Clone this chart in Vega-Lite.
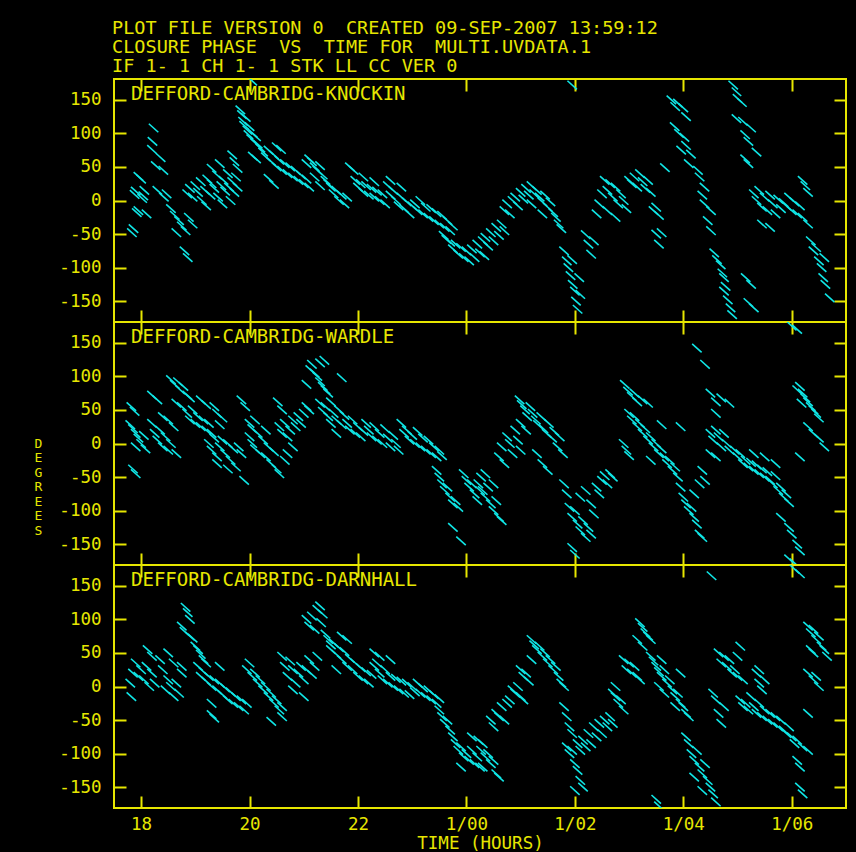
{
"$schema":"https://vega.github.io/schema/vega-lite/v6.json",
"background":"black",
"padding":{"left":33,"top":18,"right":11,"bottom":2},
"spacing":0,
"bounds":"flush",
"title":{"text":["PLOT FILE VERSION 0\u00a0\u00a0CREATED 09-SEP-2007 13:59:12","CLOSURE PHASE\u00a0\u00a0VS\u00a0\u00a0TIME FOR\u00a0\u00a0MULTI.UVDATA.1","IF 1- 1 CH 1- 1 STK LL CC VER 0"],"anchor":"start","frame":"bounds","dx":79,"offset":2,"fontSize":18.5,"lineHeight":19,"color":"#e6e600","font":"DejaVu Sans Mono","fontWeight":"normal"},
"config":{"view":{"stroke":"#e6e600","strokeWidth":2},"axis":{"grid":false,"domain":false,"tickColor":"#e6e600","tickWidth":2,"labelColor":"#e6e600","titleColor":"#e6e600","labelFont":"DejaVu Sans Mono","titleFont":"DejaVu Sans Mono","titleFontWeight":"normal"}},
"datasets":{
"K":[{"t":17.83,"p":-48},{"t":17.86,"p":-42},{"t":17.88,"p":9},{"t":17.9,"p":14},{"t":17.92,"p":-18},{"t":17.95,"p":-15},{"t":17.95,"p":36},{"t":18.0,"p":32},{"t":18.02,"p":3},{"t":18.04,"p":7},{"t":18.06,"p":15},{"t":18.1,"p":-20},
{"t":18.23,"p":108},{"t":18.21,"p":88},{"t":18.2,"p":76},{"t":18.36,"p":64},{"t":18.27,"p":52},{"t":18.41,"p":45},{"t":18.47,"p":10},{"t":18.42,"p":5},{"t":18.3,"p":15},
{"t":18.55,"p":-12},{"t":18.62,"p":-22},{"t":18.7,"p":-30},{"t":18.75,"p":-38},{"t":18.82,"p":-45},{"t":18.65,"p":-48},{"t":18.88,"p":-25},{"t":18.95,"p":-35},{"t":18.8,"p":-75},{"t":18.86,"p":-85},
{"t":18.85,"p":10},{"t":18.9,"p":18},{"t":18.95,"p":5},{"t":19.0,"p":22},{"t":19.05,"p":12},{"t":19.1,"p":28},{"t":19.12,"p":0},{"t":19.18,"p":15},{"t":19.22,"p":32},{"t":19.28,"p":8},{"t":19.3,"p":25},{"t":19.35,"p":18},{"t":19.4,"p":38},{"t":19.42,"p":5},{"t":19.48,"p":22},{"t":19.52,"p":30},{"t":19.55,"p":14},{"t":19.6,"p":40},{"t":19.62,"p":20},{"t":19.68,"p":28},{"t":19.72,"p":12},{"t":19.75,"p":35},{"t":19.78,"p":20},{"t":19.3,"p":48},{"t":19.45,"p":55},{"t":19.2,"p":-8},{"t":19.5,"p":-5},{"t":19.65,"p":0},{"t":19.68,"p":68},{"t":19.72,"p":58},{"t":19.78,"p":48},
{"t":19.83,"p":135},{"t":19.86,"p":128},{"t":19.88,"p":118},{"t":19.9,"p":112},{"t":19.93,"p":124},{"t":19.96,"p":105},{"t":19.98,"p":98},{"t":20.0,"p":110},{"t":20.03,"p":92},{"t":20.06,"p":100},{"t":20.1,"p":86},{"t":20.12,"p":95},{"t":20.15,"p":84},{"t":20.06,"p":66},{"t":20.12,"p":62},{"t":20.35,"p":33},{"t":20.45,"p":24},{"t":20.05,"p":178},
{"t":20.2,"p":78},{"t":20.25,"p":72},{"t":20.3,"p":65},{"t":20.35,"p":75},{"t":20.4,"p":58},{"t":20.45,"p":68},{"t":20.5,"p":50},{"t":20.55,"p":60},{"t":20.6,"p":45},{"t":20.65,"p":55},{"t":20.7,"p":40},{"t":20.75,"p":50},{"t":20.8,"p":35},{"t":20.85,"p":45},{"t":20.9,"p":30},{"t":20.95,"p":38},{"t":21.0,"p":25},{"t":21.05,"p":32},{"t":21.1,"p":20},{"t":20.5,"p":80},{"t":20.58,"p":76},
{"t":21.05,"p":55},{"t":21.1,"p":62},{"t":21.15,"p":58},{"t":21.2,"p":50},{"t":21.25,"p":45},{"t":21.3,"p":52},{"t":21.35,"p":38},{"t":21.4,"p":30},{"t":21.45,"p":25},{"t":21.2,"p":35},{"t":21.3,"p":22},
{"t":21.5,"p":20},{"t":21.55,"p":10},{"t":21.6,"p":15},{"t":21.65,"p":0},{"t":21.7,"p":8},{"t":21.75,"p":-5},{"t":21.8,"p":5},{"t":21.85,"p":50},{"t":21.92,"p":45},
{"t":21.95,"p":30},{"t":22.0,"p":20},{"t":22.05,"p":25},{"t":22.1,"p":12},{"t":22.15,"p":22},{"t":22.2,"p":8},{"t":22.25,"p":18},{"t":22.3,"p":5},{"t":22.35,"p":14},{"t":22.4,"p":0},{"t":22.45,"p":10},{"t":22.5,"p":-5},{"t":22.1,"p":35},{"t":22.3,"p":28},
{"t":22.55,"p":22},{"t":22.6,"p":8},{"t":22.65,"p":15},{"t":22.7,"p":0},{"t":22.75,"p":-8},{"t":22.8,"p":5},{"t":22.85,"p":-12},{"t":22.9,"p":-2},{"t":22.95,"p":-20},{"t":23.0,"p":-8},{"t":22.6,"p":30},{"t":22.8,"p":20},
{"t":23.05,"p":-5},{"t":23.1,"p":-15},{"t":23.15,"p":0},{"t":23.2,"p":-20},{"t":23.25,"p":-10},{"t":23.3,"p":-25},{"t":23.35,"p":-12},{"t":23.4,"p":-30},{"t":23.45,"p":-18},{"t":23.5,"p":-35},{"t":23.55,"p":-22},{"t":23.6,"p":-40},{"t":23.65,"p":-30},{"t":23.7,"p":-45},{"t":23.75,"p":-38},
{"t":23.58,"p":-52},{"t":23.63,"p":-58},{"t":23.7,"p":-62},{"t":23.75,"p":-72},{"t":23.8,"p":-65},{"t":23.85,"p":-80},{"t":23.9,"p":-70},{"t":23.95,"p":-85},{"t":24.0,"p":-75},{"t":24.05,"p":-90},{"t":24.1,"p":-72},{"t":24.15,"p":-85},{"t":24.2,"p":-65},{"t":24.25,"p":-78},{"t":24.3,"p":-60},
{"t":24.33,"p":-82},{"t":24.35,"p":-55},{"t":24.4,"p":-68},{"t":24.45,"p":-48},{"t":24.5,"p":-60},{"t":24.55,"p":-40},{"t":24.6,"p":-52},{"t":24.65,"p":-35},{"t":24.7,"p":-45},
{"t":24.7,"p":-15},{"t":24.75,"p":-5},{"t":24.8,"p":-20},{"t":24.85,"p":0},{"t":24.9,"p":5},{"t":24.95,"p":-8},{"t":25.0,"p":12},{"t":25.05,"p":2},{"t":25.1,"p":18},{"t":25.15,"p":8},{"t":25.2,"p":22},{"t":25.25,"p":10},{"t":25.3,"p":15},{"t":25.35,"p":5},{"t":25.4,"p":-2},{"t":25.45,"p":8},{"t":25.5,"p":-10},{"t":25.55,"p":-2},{"t":25.6,"p":-18},{"t":25.65,"p":-25},{"t":25.7,"p":-35},{"t":25.75,"p":-42},{"t":25.2,"p":-5},{"t":25.4,"p":-20},
{"t":25.8,"p":-75},{"t":25.85,"p":-90},{"t":25.88,"p":-100},{"t":25.92,"p":-112},{"t":25.96,"p":-125},{"t":26.0,"p":-135},{"t":26.02,"p":-150},{"t":26.05,"p":-162},{"t":25.95,"p":-88},{"t":26.1,"p":-140},{"t":26.2,"p":-51},{"t":26.25,"p":-65},{"t":26.3,"p":-80},{"t":26.35,"p":-60},{"t":26.08,"p":-115},{"t":25.95,"p":172},
{"t":26.4,"p":-20},{"t":26.45,"p":-5},{"t":26.5,"p":10},{"t":26.55,"p":30},{"t":26.6,"p":15},{"t":26.65,"p":25},{"t":26.7,"p":5},{"t":26.75,"p":20},{"t":26.8,"p":-5},{"t":26.85,"p":10},{"t":26.9,"p":0},{"t":26.95,"p":-12},{"t":26.6,"p":-15},{"t":26.75,"p":-25},
{"t":27.0,"p":30},{"t":27.05,"p":25},{"t":27.1,"p":35},{"t":27.15,"p":20},{"t":27.2,"p":40},{"t":27.25,"p":28},{"t":27.3,"p":18},{"t":27.35,"p":30},{"t":27.4,"p":12},
{"t":27.45,"p":-15},{"t":27.5,"p":-10},{"t":27.55,"p":-22},{"t":27.5,"p":-50},{"t":27.55,"p":-65},{"t":27.6,"p":-48},{"t":27.66,"p":49},
{"t":27.78,"p":150},{"t":27.85,"p":140},{"t":27.9,"p":145},{"t":28.0,"p":138},{"t":28.05,"p":125},{"t":27.84,"p":110},{"t":27.92,"p":100},{"t":28.02,"p":94},{"t":27.96,"p":75},{"t":28.05,"p":82},{"t":28.14,"p":69},{"t":28.1,"p":55},{"t":28.27,"p":45},{"t":28.3,"p":35},{"t":28.39,"p":20},{"t":28.35,"p":8},{"t":28.39,"p":-5},{"t":28.51,"p":-15},{"t":28.45,"p":-30},{"t":28.51,"p":-45},
{"t":28.57,"p":-78},{"t":28.62,"p":-88},{"t":28.69,"p":-96},{"t":28.72,"p":-108},{"t":28.75,"p":-115},{"t":28.78,"p":-128},{"t":28.75,"p":-135},{"t":28.82,"p":-148},{"t":28.87,"p":-160},{"t":28.9,"p":-170},
{"t":28.92,"p":172},{"t":28.98,"p":162},{"t":29.0,"p":152},{"t":29.08,"p":146},{"t":28.98,"p":122},{"t":29.1,"p":118},{"t":29.25,"p":108},{"t":29.14,"p":98},{"t":29.2,"p":88},{"t":29.14,"p":62},{"t":29.2,"p":55},{"t":29.35,"p":72},
{"t":29.15,"p":-115},{"t":29.25,"p":-125},{"t":29.2,"p":-152},{"t":29.3,"p":-160},
{"t":29.3,"p":10},{"t":29.35,"p":0},{"t":29.4,"p":15},{"t":29.45,"p":-10},{"t":29.5,"p":5},{"t":29.55,"p":-15},{"t":29.6,"p":8},{"t":29.65,"p":-5},{"t":29.7,"p":-20},{"t":29.75,"p":2},{"t":29.8,"p":-12},{"t":29.85,"p":-3},{"t":29.9,"p":-8},{"t":29.95,"p":5},{"t":30.0,"p":-15},{"t":30.05,"p":-2},{"t":30.1,"p":-20},{"t":30.15,"p":-8},{"t":30.2,"p":-25},{"t":30.3,"p":-35},{"t":29.45,"p":-35},{"t":29.6,"p":-40},{"t":30.2,"p":30},{"t":30.25,"p":22},{"t":30.3,"p":12},
{"t":30.35,"p":-60},{"t":30.4,"p":-75},{"t":30.45,"p":-70},{"t":30.5,"p":-90},{"t":30.55,"p":-100},{"t":30.6,"p":-85},{"t":30.58,"p":-115},{"t":30.62,"p":-125},{"t":30.7,"p":-145}],
"W":[{"t":17.8,"p":28},{"t":17.85,"p":22},{"t":17.9,"p":15},{"t":17.95,"p":8},{"t":18.0,"p":0},{"t":18.05,"p":12},{"t":17.9,"p":-5},{"t":18.08,"p":-8},{"t":17.82,"p":55},{"t":17.88,"p":48},{"t":17.85,"p":-38},{"t":17.9,"p":-45},
{"t":18.2,"p":30},{"t":18.25,"p":15},{"t":18.3,"p":5},{"t":18.35,"p":20},{"t":18.4,"p":-5},{"t":18.45,"p":10},{"t":18.5,"p":-10},{"t":18.55,"p":0},{"t":18.6,"p":25},{"t":18.65,"p":-15},{"t":18.2,"p":72},{"t":18.3,"p":65},{"t":18.4,"p":40},{"t":18.5,"p":35},
{"t":18.55,"p":95},{"t":18.62,"p":88},{"t":18.68,"p":92},{"t":18.72,"p":80},{"t":18.78,"p":85},{"t":18.85,"p":72},{"t":18.9,"p":68},{"t":18.65,"p":60},{"t":18.75,"p":55},
{"t":18.85,"p":45},{"t":18.9,"p":35},{"t":18.95,"p":50},{"t":19.0,"p":30},{"t":19.05,"p":40},{"t":19.1,"p":25},{"t":19.15,"p":35},{"t":19.2,"p":20},{"t":19.25,"p":30},{"t":19.3,"p":15},{"t":19.35,"p":55},{"t":19.4,"p":45},{"t":19.45,"p":28},{"t":19.5,"p":38},{"t":19.1,"p":65},{"t":19.2,"p":58},
{"t":19.25,"p":0},{"t":19.3,"p":-10},{"t":19.35,"p":8},{"t":19.4,"p":-20},{"t":19.45,"p":-5},{"t":19.5,"p":5},{"t":19.55,"p":-15},{"t":19.6,"p":0},{"t":19.65,"p":-25},{"t":19.7,"p":-8},{"t":19.75,"p":-35},{"t":19.8,"p":-5},{"t":19.85,"p":-15},{"t":19.9,"p":-55},{"t":19.4,"p":-30},{"t":19.6,"p":-38},
{"t":19.85,"p":65},{"t":19.92,"p":55},{"t":20.0,"p":30},{"t":20.05,"p":22},{"t":20.1,"p":35},
{"t":20.0,"p":10},{"t":20.05,"p":0},{"t":20.1,"p":-8},{"t":20.15,"p":15},{"t":20.2,"p":-15},{"t":20.25,"p":5},{"t":20.3,"p":-20},{"t":20.35,"p":-5},{"t":20.4,"p":-30},{"t":20.45,"p":-12},{"t":20.5,"p":-38},{"t":20.55,"p":-45},{"t":20.3,"p":20},
{"t":20.55,"p":25},{"t":20.6,"p":15},{"t":20.65,"p":30},{"t":20.7,"p":10},{"t":20.75,"p":20},{"t":20.8,"p":35},{"t":20.85,"p":25},{"t":20.9,"p":40},{"t":20.95,"p":30},{"t":21.0,"p":45},{"t":21.05,"p":55},{"t":21.1,"p":50},{"t":20.7,"p":-15},{"t":20.8,"p":-5},{"t":20.6,"p":50},{"t":20.65,"p":-25},{"t":20.52,"p":62},
{"t":21.12,"p":110},{"t":21.15,"p":118},{"t":21.2,"p":105},{"t":21.25,"p":100},{"t":21.3,"p":92},{"t":21.35,"p":85},{"t":21.4,"p":80},{"t":21.45,"p":75},{"t":21.3,"p":120},{"t":21.05,"p":88},{"t":21.38,"p":124},{"t":21.7,"p":98},
{"t":21.3,"p":60},{"t":21.35,"p":48},{"t":21.4,"p":55},{"t":21.45,"p":40},{"t":21.5,"p":62},{"t":21.55,"p":45},{"t":21.6,"p":35},{"t":21.65,"p":50},{"t":21.7,"p":28},{"t":21.75,"p":42},{"t":21.8,"p":30},{"t":21.85,"p":20},{"t":21.9,"p":35},{"t":21.95,"p":15},{"t":22.0,"p":25},{"t":22.05,"p":10},{"t":22.1,"p":18},{"t":21.5,"p":30},{"t":21.6,"p":15},
{"t":22.15,"p":30},{"t":22.2,"p":20},{"t":22.25,"p":10},{"t":22.3,"p":25},{"t":22.35,"p":5},{"t":22.4,"p":15},{"t":22.45,"p":0},{"t":22.5,"p":22},{"t":22.55,"p":8},{"t":22.6,"p":-5},{"t":22.65,"p":12},{"t":22.7,"p":0},{"t":22.75,"p":-10},
{"t":22.8,"p":30},{"t":22.85,"p":15},{"t":22.9,"p":20},{"t":22.95,"p":5},{"t":23.0,"p":12},{"t":23.05,"p":0},{"t":23.1,"p":18},{"t":23.15,"p":-5},{"t":23.2,"p":8},{"t":23.25,"p":-10},{"t":23.3,"p":5},{"t":23.35,"p":-15},{"t":23.4,"p":-5},{"t":23.45,"p":-20},{"t":23.5,"p":-10},{"t":23.55,"p":-18},
{"t":23.45,"p":-40},{"t":23.5,"p":-50},{"t":23.55,"p":-60},{"t":23.6,"p":-70},{"t":23.65,"p":-65},{"t":23.7,"p":-80},{"t":23.75,"p":-90},{"t":23.8,"p":-85},{"t":23.85,"p":-95},{"t":23.75,"p":-125},{"t":23.9,"p":-145},
{"t":23.95,"p":-45},{"t":24.0,"p":-55},{"t":24.05,"p":-65},{"t":24.1,"p":-60},{"t":24.15,"p":-75},{"t":24.2,"p":-85},{"t":24.25,"p":-70},
{"t":24.22,"p":-60},{"t":24.27,"p":-50},{"t":24.3,"p":-70},{"t":24.35,"p":-80},{"t":24.4,"p":-65},{"t":24.45,"p":-90},{"t":24.5,"p":-100},{"t":24.55,"p":-85},{"t":24.6,"p":-110},{"t":24.65,"p":-115},{"t":24.35,"p":-45},{"t":24.5,"p":-60},
{"t":24.6,"p":-20},{"t":24.65,"p":-5},{"t":24.7,"p":-30},{"t":24.75,"p":10},{"t":24.8,"p":0},{"t":24.85,"p":-15},{"t":24.9,"p":20},{"t":24.95,"p":5},{"t":25.0,"p":-10},
{"t":24.98,"p":65},{"t":25.02,"p":58},{"t":25.08,"p":50},{"t":25.12,"p":40},{"t":25.18,"p":55},{"t":25.22,"p":45},{"t":25.28,"p":35},{"t":25.32,"p":28},{"t":25.38,"p":40},{"t":25.42,"p":22},{"t":25.48,"p":15},{"t":25.52,"p":30},{"t":25.58,"p":8},{"t":25.62,"p":18},{"t":25.68,"p":-5},{"t":25.72,"p":10},{"t":25.78,"p":-15},{"t":25.0,"p":30},{"t":25.1,"p":20},{"t":25.3,"p":-15},{"t":25.4,"p":-30},{"t":25.5,"p":-40},
{"t":25.8,"p":-60},{"t":25.85,"p":-75},{"t":25.9,"p":-95},{"t":25.95,"p":-110},{"t":26.0,"p":-100},{"t":26.05,"p":-120},{"t":26.1,"p":-130},{"t":26.15,"p":-115},{"t":26.2,"p":-140},{"t":26.25,"p":-125},{"t":26.3,"p":-135},{"t":26.35,"p":-105},{"t":25.95,"p":-155},{"t":26.0,"p":-165},
{"t":26.1,"p":-80},{"t":26.2,"p":-70},{"t":26.3,"p":-90},{"t":26.4,"p":-65},{"t":26.45,"p":-75},{"t":26.5,"p":-55},{"t":26.55,"p":-48},{"t":26.6,"p":-60},{"t":26.65,"p":-45},{"t":26.7,"p":-50},
{"t":26.9,"p":0},{"t":26.95,"p":-10},{"t":27.0,"p":-18},
{"t":26.92,"p":88},{"t":26.98,"p":78},{"t":27.05,"p":70},{"t":27.1,"p":75},{"t":27.15,"p":62},{"t":27.25,"p":65},{"t":27.35,"p":60},
{"t":27.0,"p":45},{"t":27.05,"p":35},{"t":27.1,"p":40},{"t":27.15,"p":25},{"t":27.2,"p":30},{"t":27.25,"p":15},{"t":27.3,"p":22},{"t":27.35,"p":5},{"t":27.4,"p":10},{"t":27.45,"p":-5},{"t":27.5,"p":0},{"t":27.55,"p":-15},{"t":27.6,"p":-8},{"t":27.65,"p":-20},{"t":27.7,"p":-30},{"t":27.75,"p":-25},{"t":27.8,"p":-40},{"t":27.85,"p":-35},{"t":27.9,"p":-50},{"t":27.4,"p":-25},{"t":27.6,"p":28},{"t":27.95,"p":25},
{"t":27.95,"p":-65},{"t":28.0,"p":-80},{"t":28.05,"p":-90},{"t":28.1,"p":-100},{"t":28.15,"p":-95},{"t":28.2,"p":-110},{"t":28.25,"p":-120},{"t":28.3,"p":-135},{"t":28.35,"p":-140},{"t":28.2,"p":-75},{"t":28.3,"p":-60},{"t":28.35,"p":-40},{"t":28.4,"p":-55},
{"t":28.25,"p":142},{"t":28.4,"p":118},
{"t":28.5,"p":75},{"t":28.6,"p":62},{"t":28.7,"p":68},{"t":28.85,"p":60},{"t":28.6,"p":45},
{"t":28.5,"p":15},{"t":28.55,"p":5},{"t":28.6,"p":20},{"t":28.65,"p":10},{"t":28.7,"p":-5},{"t":28.75,"p":15},{"t":28.8,"p":0},{"t":28.85,"p":-10},{"t":28.5,"p":-15},{"t":28.6,"p":-20},
{"t":28.95,"p":-10},{"t":29.0,"p":-20},{"t":29.05,"p":-15},{"t":29.1,"p":-30},{"t":29.15,"p":-25},{"t":29.2,"p":-35},{"t":29.25,"p":-28},{"t":29.3,"p":-40},{"t":29.35,"p":-32},{"t":29.4,"p":-45},{"t":29.45,"p":-38},{"t":29.5,"p":-50},{"t":29.55,"p":-42},{"t":29.6,"p":-55},{"t":29.65,"p":-60},{"t":29.7,"p":-48},{"t":29.75,"p":-70},{"t":29.8,"p":-65},{"t":29.85,"p":-80},{"t":29.9,"p":-75},{"t":29.95,"p":-88},{"t":29.3,"p":-15},{"t":29.5,"p":-20},{"t":29.7,"p":-30},
{"t":29.8,"p":-110},{"t":29.95,"p":-125},{"t":30.0,"p":-135},{"t":30.1,"p":-150},{"t":30.15,"p":-160},{"t":30.0,"p":175},{"t":30.1,"p":170},
{"t":30.1,"p":80},{"t":30.15,"p":85},{"t":30.2,"p":75},{"t":30.25,"p":68},{"t":30.3,"p":62},{"t":30.35,"p":55},{"t":30.4,"p":50},{"t":30.45,"p":45},{"t":30.5,"p":38},{"t":30.18,"p":60},
{"t":30.3,"p":25},{"t":30.4,"p":15},{"t":30.5,"p":8},{"t":30.6,"p":-5},{"t":30.15,"p":-20},{"t":29.95,"p":-172},{"t":30.05,"p":-178}],
"D":[{"t":17.8,"p":5},{"t":17.85,"p":20},{"t":17.9,"p":35},{"t":17.95,"p":15},{"t":18.0,"p":25},{"t":18.05,"p":10},{"t":18.1,"p":30},{"t":18.15,"p":0},{"t":18.2,"p":20},{"t":18.25,"p":5},{"t":17.82,"p":-15},{"t":18.12,"p":55},{"t":18.2,"p":45},
{"t":18.35,"p":40},{"t":18.4,"p":25},{"t":18.45,"p":-5},{"t":18.5,"p":10},{"t":18.55,"p":0},{"t":18.6,"p":-15},{"t":18.65,"p":5},{"t":18.7,"p":-10},{"t":18.5,"p":50},{"t":18.6,"p":35},{"t":18.75,"p":30},{"t":18.75,"p":20},
{"t":18.82,"p":118},{"t":18.86,"p":110},{"t":18.9,"p":100},{"t":18.75,"p":90},{"t":18.8,"p":82},{"t":18.9,"p":75},
{"t":18.95,"p":72},{"t":19.0,"p":60},{"t":19.05,"p":55},{"t":19.1,"p":48},{"t":19.15,"p":40},{"t":19.2,"p":35},
{"t":19.05,"p":30},{"t":19.1,"p":15},{"t":19.15,"p":22},{"t":19.2,"p":8},{"t":19.25,"p":15},{"t":19.3,"p":0},{"t":19.35,"p":10},{"t":19.4,"p":-5},{"t":19.45,"p":5},{"t":19.5,"p":-12},{"t":19.55,"p":-2},{"t":19.6,"p":-20},{"t":19.65,"p":-8},{"t":19.7,"p":-25},{"t":19.75,"p":-15},{"t":19.8,"p":-30},{"t":19.85,"p":-20},{"t":19.9,"p":-35},{"t":19.95,"p":-25},{"t":19.45,"p":30},{"t":19.3,"p":-25},{"t":19.35,"p":-47},{"t":19.3,"p":-42},
{"t":19.95,"p":25},{"t":20.0,"p":35},{"t":20.05,"p":15},{"t":20.1,"p":20},{"t":20.15,"p":5},{"t":20.2,"p":10},{"t":20.25,"p":-5},{"t":20.3,"p":0},{"t":20.35,"p":-15},{"t":20.4,"p":-10},{"t":20.45,"p":-25},{"t":20.5,"p":-20},{"t":20.55,"p":-35},{"t":20.6,"p":-30},{"t":20.4,"p":-52},{"t":20.6,"p":-45},
{"t":20.6,"p":45},{"t":20.65,"p":30},{"t":20.7,"p":15},{"t":20.75,"p":38},{"t":20.8,"p":25},{"t":20.85,"p":5},{"t":20.9,"p":20},{"t":20.95,"p":30},{"t":21.0,"p":10},{"t":21.05,"p":25},{"t":21.1,"p":40},{"t":21.15,"p":18},{"t":21.2,"p":30},{"t":21.25,"p":45},{"t":20.8,"p":-5},{"t":21.0,"p":-15},
{"t":21.05,"p":100},{"t":21.1,"p":90},{"t":21.15,"p":105},{"t":21.2,"p":85},{"t":21.25,"p":115},{"t":21.3,"p":120},{"t":21.32,"p":95},{"t":21.35,"p":108},{"t":21.4,"p":78},{"t":21.45,"p":70},{"t":21.5,"p":62},
{"t":21.5,"p":55},{"t":21.55,"p":65},{"t":21.6,"p":48},{"t":21.65,"p":58},{"t":21.7,"p":40},{"t":21.75,"p":52},{"t":21.8,"p":30},{"t":21.85,"p":42},{"t":21.9,"p":25},{"t":21.95,"p":35},{"t":22.0,"p":15},{"t":22.05,"p":28},{"t":22.1,"p":10},{"t":22.15,"p":22},{"t":22.2,"p":5},{"t":22.25,"p":18},{"t":22.3,"p":30},{"t":21.7,"p":75},{"t":21.8,"p":70},{"t":21.6,"p":25},{"t":22.3,"p":50},{"t":22.4,"p":45},
{"t":22.35,"p":35},{"t":22.4,"p":20},{"t":22.45,"p":10},{"t":22.5,"p":25},{"t":22.55,"p":5},{"t":22.6,"p":15},{"t":22.65,"p":0},{"t":22.7,"p":12},{"t":22.75,"p":-5},{"t":22.8,"p":8},{"t":22.85,"p":-10},{"t":22.9,"p":5},{"t":22.95,"p":-12},{"t":22.6,"p":40},
{"t":23.0,"p":0},{"t":23.05,"p":-8},{"t":23.1,"p":5},{"t":23.15,"p":-10},{"t":23.2,"p":-2},{"t":23.25,"p":-15},{"t":23.3,"p":-5},{"t":23.35,"p":-20},{"t":23.4,"p":-12},{"t":23.45,"p":-25},{"t":23.5,"p":-18},
{"t":23.5,"p":-35},{"t":23.55,"p":-45},{"t":23.6,"p":-55},{"t":23.65,"p":-50},{"t":23.7,"p":-65},{"t":23.75,"p":-75},
{"t":23.8,"p":-85},{"t":23.85,"p":-95},{"t":23.9,"p":-90},{"t":23.95,"p":-105},{"t":24.0,"p":-100},{"t":24.05,"p":-110},{"t":24.1,"p":-95},{"t":24.15,"p":-115},{"t":24.2,"p":-105},{"t":24.25,"p":-120},{"t":23.9,"p":-120},{"t":24.1,"p":-75},
{"t":24.22,"p":-80},{"t":24.27,"p":-95},{"t":24.3,"p":-85},{"t":24.35,"p":-105},{"t":24.4,"p":-100},{"t":24.45,"p":-115},{"t":24.5,"p":-110},{"t":24.55,"p":-130},{"t":24.6,"p":-135},{"t":24.3,"p":-120},
{"t":24.45,"p":-50},{"t":24.5,"p":-60},{"t":24.55,"p":-40},{"t":24.6,"p":-45},{"t":24.65,"p":-30},{"t":24.7,"p":-50},{"t":24.75,"p":-25},{"t":24.8,"p":-20},{"t":24.85,"p":-5},{"t":24.9,"p":-10},{"t":24.95,"p":0},{"t":25.0,"p":-15},{"t":25.05,"p":-20},
{"t":25.0,"p":25},{"t":25.05,"p":15},{"t":25.1,"p":20},{"t":25.15,"p":8},
{"t":25.2,"p":70},{"t":25.25,"p":62},{"t":25.3,"p":55},{"t":25.35,"p":60},{"t":25.4,"p":45},{"t":25.45,"p":50},{"t":25.5,"p":35},{"t":25.55,"p":40},{"t":25.6,"p":25},{"t":25.65,"p":30},{"t":25.7,"p":15},{"t":25.75,"p":5},{"t":25.8,"p":0},{"t":25.2,"p":40},
{"t":25.8,"p":-30},{"t":25.85,"p":-45},{"t":25.9,"p":-60},{"t":25.95,"p":-70},
{"t":25.85,"p":-90},{"t":25.9,"p":-100},{"t":25.95,"p":-95},{"t":26.0,"p":-115},{"t":26.05,"p":-125},{"t":26.1,"p":-140},{"t":26.15,"p":-150},{"t":26.0,"p":-155},
{"t":26.05,"p":-85},{"t":26.1,"p":-95},{"t":26.15,"p":-80},{"t":26.2,"p":-90},{"t":26.25,"p":-70},{"t":26.3,"p":-85},{"t":26.35,"p":-60},{"t":26.4,"p":-75},{"t":26.45,"p":-55},{"t":26.5,"p":-70},{"t":26.55,"p":-50},{"t":26.6,"p":-60},{"t":26.65,"p":-45},{"t":26.7,"p":-55},
{"t":26.7,"p":-10},{"t":26.75,"p":-15},{"t":26.8,"p":-25},{"t":26.85,"p":-20},{"t":26.9,"p":-35},{"t":26.75,"p":0},
{"t":26.9,"p":40},{"t":26.95,"p":25},{"t":27.0,"p":35},{"t":27.05,"p":20},{"t":27.1,"p":30},{"t":27.15,"p":15},{"t":27.2,"p":10},
{"t":27.2,"p":95},{"t":27.25,"p":88},{"t":27.3,"p":80},{"t":27.35,"p":75},{"t":27.4,"p":70},{"t":27.15,"p":70},{"t":27.25,"p":60},
{"t":27.4,"p":45},{"t":27.45,"p":38},{"t":27.5,"p":30},{"t":27.55,"p":22},{"t":27.6,"p":15},{"t":27.65,"p":25},{"t":27.7,"p":5},{"t":27.75,"p":10},{"t":27.8,"p":-5},{"t":27.85,"p":-15},{"t":27.9,"p":-10},{"t":27.95,"p":-25},{"t":28.0,"p":-30},{"t":28.05,"p":-40},{"t":28.1,"p":-45},{"t":27.85,"p":-30},{"t":27.6,"p":40},{"t":27.55,"p":0},{"t":27.65,"p":-10},{"t":27.95,"p":20},
{"t":28.05,"p":-75},{"t":28.1,"p":-85},{"t":28.15,"p":-100},{"t":28.2,"p":-110},{"t":28.25,"p":-95},{"t":28.3,"p":-120},{"t":28.35,"p":-130},{"t":28.4,"p":-115},{"t":28.45,"p":-140},{"t":28.5,"p":-150},{"t":28.55,"p":-160},{"t":28.6,"p":-172},{"t":28.2,"p":-135},{"t":28.35,"p":-155},
{"t":27.5,"p":-168},{"t":27.55,"p":-178},{"t":28.52,"p":165},
{"t":28.55,"p":-10},{"t":28.6,"p":-20},{"t":28.65,"p":-40},{"t":28.7,"p":-55},{"t":28.75,"p":-30},
{"t":28.65,"p":50},{"t":28.7,"p":35},{"t":28.75,"p":45},{"t":28.8,"p":30},{"t":28.85,"p":40},{"t":28.9,"p":20},{"t":28.95,"p":25},{"t":29.0,"p":15},{"t":29.0,"p":45},{"t":29.05,"p":60},{"t":29.1,"p":10},
{"t":29.05,"p":-20},{"t":29.1,"p":-30},{"t":29.15,"p":-25},{"t":29.2,"p":-35},{"t":29.25,"p":-15},{"t":29.3,"p":-30},{"t":29.35,"p":-40},{"t":29.4,"p":-25},{"t":29.45,"p":-45},{"t":29.5,"p":-35},{"t":29.55,"p":-50},{"t":29.6,"p":-40},{"t":29.65,"p":-55},{"t":29.7,"p":-45},{"t":29.75,"p":-60},{"t":29.8,"p":-50},{"t":29.85,"p":-65},{"t":29.9,"p":-70},{"t":29.95,"p":-60},{"t":30.0,"p":-75},{"t":30.05,"p":-85},{"t":30.1,"p":-80},{"t":30.2,"p":-90},{"t":30.3,"p":-95},
{"t":29.35,"p":20},{"t":29.4,"p":5},{"t":29.45,"p":-5},{"t":29.5,"p":10},{"t":29.4,"p":25},
{"t":30.1,"p":-110},{"t":30.15,"p":-120},{"t":30.15,"p":-150},{"t":30.2,"p":-160},{"t":30.05,"p":175},{"t":30.15,"p":168},
{"t":30.3,"p":90},{"t":30.35,"p":80},{"t":30.4,"p":85},{"t":30.45,"p":70},{"t":30.5,"p":75},{"t":30.55,"p":60},{"t":30.6,"p":55},{"t":30.65,"p":45},{"t":30.35,"p":55},{"t":30.4,"p":50},
{"t":30.3,"p":20},{"t":30.4,"p":10},{"t":30.45,"p":15},{"t":30.5,"p":0},{"t":30.3,"p":-40}]
},
"vconcat":[
{"data":{"name":"K"},"width":732,"height":243,
 "title":{"text":"DEFFORD-CAMBRIDG-KNOCKIN","anchor":"start","frame":"group","offset":-41,"dx":17,"baseline":"alphabetic","fontSize":19,"color":"#e6e600","font":"DejaVu Sans Mono","fontWeight":"normal"},
 "layer":[
  {"mark":{"type":"point","shape":"M-1,-0.9L1,0.9","size":90,"filled":false,"color":"#10e6e6","strokeWidth":1.6,"opacity":1,"clip":true},
   "encoding":{"x":{"field":"t","type":"quantitative","scale":{"domain":[17.5,31],"nice":false,"zero":false},"axis":{"orient":"bottom","values":[18,20,22,24,26,28,30],"offset":-12,"tickSize":12,"labels":false,"title":null}},
               "y":{"field":"p","type":"quantitative","scale":{"domain":[-181,181],"nice":false,"zero":false},"axis":{"orient":"left","values":[-150,-100,-50,0,50,100,150],"offset":-12,"tickSize":12,"labelPadding":13,"labelFontSize":17.5,"labelExpr":"'' + datum.value","title":null}}}},
  {"mark":{"type":"point","opacity":0},
   "encoding":{"x":{"field":"t","type":"quantitative","axis":{"orient":"top","values":[18,20,22,24,26,28,30],"offset":-12,"tickSize":12,"labels":false,"title":null}},
               "y":{"field":"p","type":"quantitative","axis":{"orient":"right","values":[-150,-100,-50,0,50,100,150],"offset":-12,"tickSize":12,"labels":false,"title":null}}}}
 ],
 "resolve":{"axis":{"x":"independent","y":"independent"}}
},
{"data":{"name":"W"},"width":732,"height":243,
 "title":{"text":"DEFFORD-CAMBRIDG-WARDLE","anchor":"start","frame":"group","offset":-41,"dx":17,"baseline":"alphabetic","fontSize":19,"color":"#e6e600","font":"DejaVu Sans Mono","fontWeight":"normal"},
 "layer":[
  {"mark":{"type":"point","shape":"M-1,-0.9L1,0.9","size":90,"filled":false,"color":"#10e6e6","strokeWidth":1.6,"opacity":1,"clip":true},
   "encoding":{"x":{"field":"t","type":"quantitative","scale":{"domain":[17.5,31],"nice":false,"zero":false},"axis":{"orient":"bottom","values":[18,20,22,24,26,28,30],"offset":-12,"tickSize":12,"labels":false,"title":null}},
               "y":{"field":"p","type":"quantitative","scale":{"domain":[-181,181],"nice":false,"zero":false},"axis":{"orient":"left","values":[-150,-100,-50,0,50,100,150],"offset":-12,"tickSize":12,"labelPadding":13,"labelFontSize":17.5,"labelExpr":"'' + datum.value","title":["D","E","G","R","E","E","S"],"titleAngle":0,"titleFontSize":13,"titleLineHeight":14.5,"titleX":-88,"titleY":121,"titleAlign":"center","titleBaseline":"middle"}}}},
  {"mark":{"type":"point","opacity":0},
   "encoding":{"x":{"field":"t","type":"quantitative","axis":{"orient":"top","values":[18,20,22,24,26,28,30],"offset":-12,"tickSize":12,"labels":false,"title":null}},
               "y":{"field":"p","type":"quantitative","axis":{"orient":"right","values":[-150,-100,-50,0,50,100,150],"offset":-12,"tickSize":12,"labels":false,"title":null}}}}
 ],
 "resolve":{"axis":{"x":"independent","y":"independent"}}
},
{"data":{"name":"D"},"width":732,"height":243,
 "title":{"text":"DEFFORD-CAMBRIDG-DARNHALL","anchor":"start","frame":"group","offset":-41,"dx":17,"baseline":"alphabetic","fontSize":19,"color":"#e6e600","font":"DejaVu Sans Mono","fontWeight":"normal"},
 "layer":[
  {"mark":{"type":"point","shape":"M-1,-0.9L1,0.9","size":90,"filled":false,"color":"#10e6e6","strokeWidth":1.6,"opacity":1,"clip":true},
   "encoding":{"x":{"field":"t","type":"quantitative","scale":{"domain":[17.5,31],"nice":false,"zero":false},"axis":{"orient":"bottom","values":[18,20,22,24,26,28,30],"offset":-12,"tickSize":12,"labelPadding":7,"labelFontSize":17.5,"labelExpr":"datum.value < 24 ? datum.label : '1/0' + (datum.value - 24)","title":"TIME (HOURS)","titleFontSize":17.5,"titlePadding":2}},
               "y":{"field":"p","type":"quantitative","scale":{"domain":[-181,181],"nice":false,"zero":false},"axis":{"orient":"left","values":[-150,-100,-50,0,50,100,150],"offset":-12,"tickSize":12,"labelPadding":13,"labelFontSize":17.5,"labelExpr":"'' + datum.value","title":null}}}},
  {"mark":{"type":"point","opacity":0},
   "encoding":{"x":{"field":"t","type":"quantitative","axis":{"orient":"top","values":[18,20,22,24,26,28,30],"offset":-12,"tickSize":12,"labels":false,"title":null}},
               "y":{"field":"p","type":"quantitative","axis":{"orient":"right","values":[-150,-100,-50,0,50,100,150],"offset":-12,"tickSize":12,"labels":false,"title":null}}}}
 ],
 "resolve":{"axis":{"x":"independent","y":"independent"}}
}
]
}
